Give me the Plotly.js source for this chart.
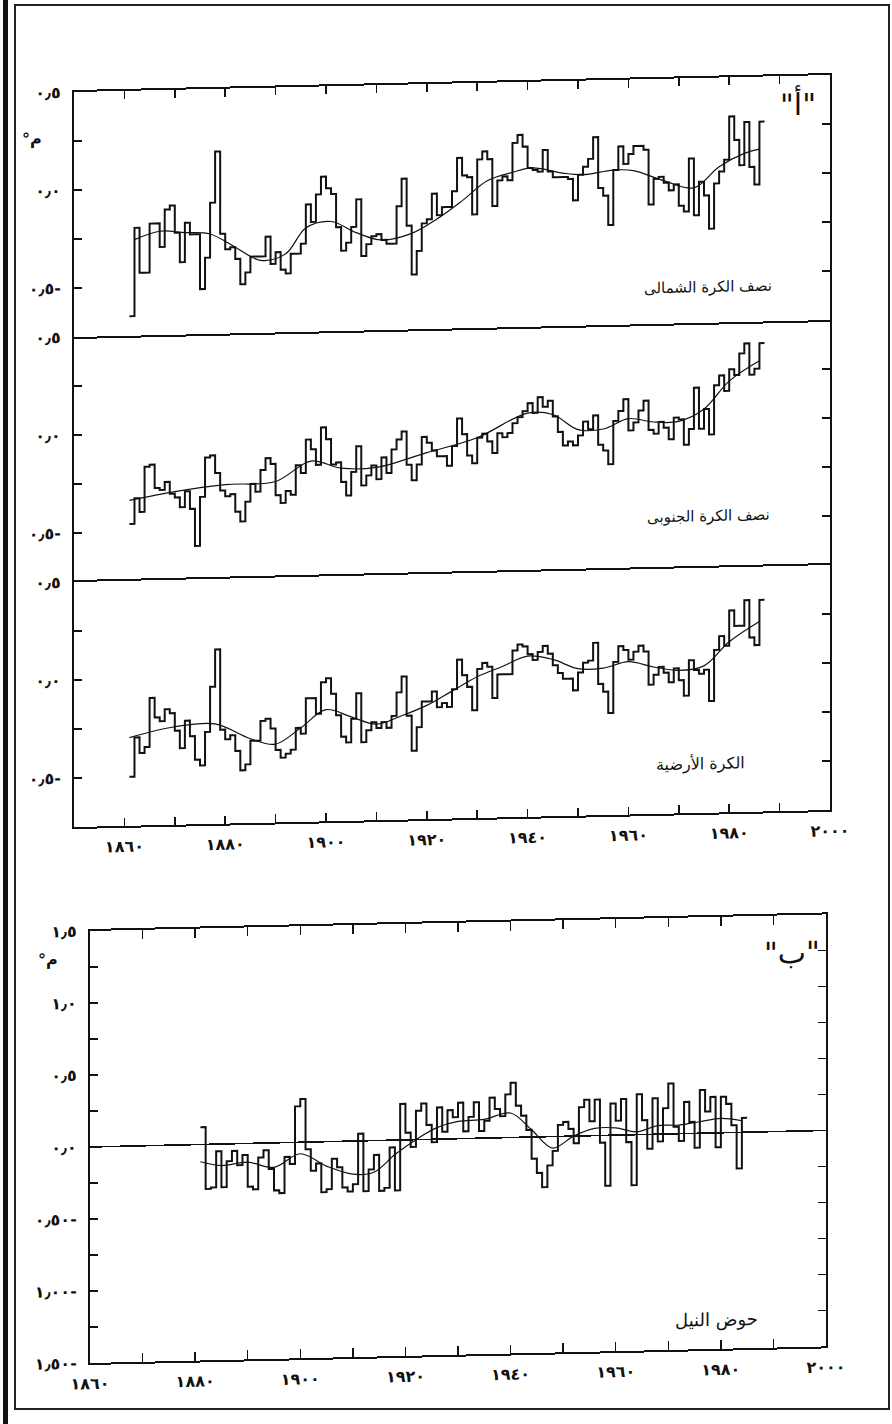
<!DOCTYPE html>
<html><head><meta charset="utf-8">
<script src="https://cdn.plot.ly/plotly-3.0.1.min.js"></script>
<style>
html,body{margin:0;padding:0;background:#fff;}
#wrap{position:relative;width:892px;height:1424px;overflow:hidden;background:#fff;}
#chart{position:absolute;left:0;top:0;width:892px;height:1424px;transform:skewY(-1.29deg);transform-origin:0 0;}
.fr1{position:absolute;left:3px;top:0;width:5px;height:1424px;background:#111;}
.fr2{position:absolute;left:14px;top:4px;width:872px;height:1402px;border:2px solid #222;}
</style></head>
<body><div id="wrap"><div class="fr1"></div><div class="fr2"></div><div id="chart"></div></div>
<script>
// ---------- DATA ----------
const nhStart = 1861;
const nhValues = [
 -0.65,-0.20,-0.43,-0.43,-0.18,-0.18,-0.30,-0.11,-0.09,-0.23,
 -0.38,-0.18,-0.24,-0.24,-0.52,-0.36,-0.08, 0.18,-0.24,-0.32,
 -0.31,-0.37,-0.50,-0.44,-0.36,-0.36,-0.36,-0.26,-0.40,-0.34,
 -0.43,-0.45,-0.35,-0.35,-0.30,-0.10,-0.19,-0.05, 0.04,-0.02,
 -0.05,-0.22,-0.34,-0.30,-0.22,-0.08,-0.37,-0.31,-0.27,-0.26,
 -0.29,-0.31,-0.31,-0.12, 0.02,-0.22,-0.47,-0.35,-0.21,-0.19,
 -0.06,-0.17,-0.13,-0.13,-0.05, 0.12, 0.03, 0.02,-0.17, 0.11,
  0.15, 0.11,-0.13, 0.00, 0.02, 0.00, 0.19, 0.23, 0.17, 0.06,
  0.05, 0.04, 0.15, 0.04, 0.01, 0.01, 0.01, 0.00,-0.11, 0.02,
  0.06, 0.10, 0.21,-0.05,-0.09,-0.24, 0.04, 0.16, 0.07, 0.12,
  0.16, 0.16, 0.14,-0.14,-0.01, 0.00,-0.03,-0.07,-0.04,-0.15,
 -0.18, 0.09,-0.20,-0.03,-0.10,-0.27,-0.04, 0.02, 0.08, 0.30,
  0.18, 0.05, 0.27, 0.04,-0.05, 0.27];
const nhSmoothYears  = [1862,1867,1872,1877,1882,1887,1892,1896,1901,1906,1911,1917,1922,1927,1932,1937,1941,1947,1951,1957,1961,1967,1973,1978,1983,1986];
const nhSmoothValues = [-0.26,-0.22,-0.23,-0.24,-0.31,-0.38,-0.35,-0.22,-0.19,-0.25,-0.29,-0.26,-0.19,-0.10,0.00,0.04,0.06,0.03,0.02,0.04,0.035,-0.02,-0.06,0.045,0.11,0.13];

const shStart = 1861;
const shValues = [
 -0.46,-0.33,-0.40,-0.17,-0.16,-0.28,-0.29,-0.25,-0.31,-0.33,
 -0.38,-0.30,-0.39,-0.58,-0.33,-0.13,-0.12,-0.21,-0.30,-0.33,
 -0.32,-0.41,-0.46,-0.36,-0.27,-0.31,-0.20,-0.14,-0.17,-0.33,
 -0.37,-0.31,-0.33,-0.18,-0.22,-0.05,-0.10,-0.18, 0.01,-0.05,
 -0.18,-0.17,-0.27,-0.34,-0.22,-0.09,-0.29,-0.24,-0.19,-0.26,
 -0.15,-0.23,-0.11,-0.06,-0.02,-0.19,-0.27,-0.19,-0.05,-0.08,
 -0.12,-0.15,-0.15,-0.20,-0.10, 0.04,-0.04,-0.15,-0.19,-0.06,
 -0.04,-0.08,-0.14,-0.04,-0.06,-0.04, 0.01, 0.04, 0.07, 0.11,
  0.06, 0.14, 0.09, 0.12, 0.04,-0.04,-0.11,-0.09,-0.11,-0.06,
  0.01,-0.03, 0.04,-0.11,-0.14,-0.21, 0.01, 0.06, 0.12,-0.04,
  0.00, 0.06, 0.11,-0.04,-0.06, 0.00,-0.03,-0.09, 0.02, 0.01,
 -0.12,-0.04, 0.17,-0.04, 0.06,-0.07, 0.18, 0.23, 0.15, 0.26,
  0.23, 0.34, 0.39, 0.23, 0.26, 0.39];
const shSmoothYears  = [1861,1870,1880,1890,1897,1903,1910,1920,1930,1940,1945,1950,1955,1960,1965,1970,1975,1980,1986];
const shSmoothValues = [-0.34,-0.30,-0.27,-0.26,-0.16,-0.20,-0.20,-0.13,-0.06,0.06,0.05,-0.03,-0.03,0.02,0.00,0.00,0.06,0.20,0.30];

const glStart = 1861;
const glValues = [
 -0.50,-0.30,-0.38,-0.35,-0.10,-0.20,-0.22,-0.16,-0.18,-0.27,
 -0.36,-0.22,-0.30,-0.42,-0.45,-0.28,-0.05, 0.14,-0.27,-0.32,
 -0.30,-0.38,-0.48,-0.45,-0.33,-0.33,-0.23,-0.22,-0.27,-0.38,
 -0.42,-0.40,-0.38,-0.27,-0.30,-0.12,-0.12,-0.20,-0.04,-0.02,
 -0.10,-0.21,-0.32,-0.35,-0.23,-0.10,-0.35,-0.29,-0.25,-0.28,
 -0.25,-0.28,-0.22,-0.10,-0.02,-0.22,-0.40,-0.28,-0.15,-0.15,
 -0.10,-0.18,-0.16,-0.18,-0.09, 0.06,-0.02,-0.08,-0.20, 0.01,
  0.04, 0.02,-0.14,-0.02,-0.02,-0.02, 0.10, 0.13, 0.12, 0.08,
  0.05, 0.09, 0.12, 0.08, 0.02,-0.02,-0.05,-0.05,-0.11,-0.02,
  0.03, 0.04, 0.13,-0.08,-0.12,-0.23, 0.03, 0.11, 0.09, 0.04,
  0.08, 0.11, 0.08,-0.09,-0.04, 0.00,-0.03,-0.08,-0.01,-0.07,
 -0.15, 0.03,-0.02,-0.04,-0.02,-0.18, 0.08, 0.15, 0.10, 0.28,
  0.20, 0.20, 0.33, 0.14, 0.10, 0.33];
const glSmoothYears  = [1861,1870,1878,1885,1890,1895,1900,1905,1910,1915,1920,1925,1930,1935,1940,1945,1950,1955,1960,1965,1970,1975,1980,1986];
const glSmoothValues = [-0.30,-0.25,-0.24,-0.32,-0.35,-0.27,-0.18,-0.22,-0.26,-0.22,-0.17,-0.10,-0.03,0.02,0.07,0.05,0.00,0.00,0.03,0.00,-0.02,0.00,0.12,0.22];

const nileStart = 1881;
const nileValues = [
  0.12,-0.31,-0.30,-0.05,-0.30,-0.12,-0.05,-0.15,-0.08,-0.30,
 -0.32,-0.10,-0.05,-0.18,-0.33,-0.35,-0.10,-0.15, 0.25, 0.30,
 -0.05,-0.20,-0.15,-0.35,-0.33,-0.12,-0.18,-0.32,-0.35,-0.30,
  0.05,-0.35,-0.20,-0.10,-0.35,-0.33,-0.05,-0.35, 0.25, 0.05,
 -0.05, 0.20, 0.25, 0.10,-0.02, 0.22, 0.05, 0.20, 0.15, 0.25,
  0.05, 0.15, 0.25, 0.05, 0.12, 0.28, 0.20, 0.15, 0.30, 0.38,
  0.22, 0.15, 0.05,-0.15,-0.25,-0.35,-0.20,-0.10, 0.08, 0.10,
  0.05,-0.05, 0.20, 0.25, 0.10, 0.25,-0.05,-0.35, 0.22, 0.10,
  0.25,-0.05,-0.35, 0.28, 0.10,-0.10, 0.25,-0.05, 0.18, 0.35,
  0.05,-0.05, 0.22, 0.08,-0.10, 0.30, 0.15, 0.25,-0.10, 0.25,
  0.20, 0.05,-0.25, 0.10];
const nileSmoothYears  = [1881,1885,1890,1895,1900,1905,1910,1914,1918,1922,1926,1930,1935,1940,1944,1948,1952,1956,1960,1964,1968,1972,1976,1980,1984];
const nileSmoothValues = [-0.12,-0.15,-0.13,-0.17,-0.08,-0.17,-0.23,-0.22,-0.10,0.00,0.08,0.12,0.13,0.17,0.05,-0.08,0.00,0.05,0.05,0.02,0.06,0.06,0.08,0.10,0.08];

const yearTickLabels = {1860:'١٨٦٠',1880:'١٨٨٠',1900:'١٩٠٠',1920:'١٩٢٠',1940:'١٩٤٠',1960:'١٩٦٠',1980:'١٩٨٠',2000:'٢٠٠٠'};
const panelAYTicks = [0.5,0.25,0,-0.25,-0.5];
const panelAYText  = ['٠٫٥','','٠٫٠','','٠٫٥-'];
const nileYTicks = [1.5,1.25,1,0.75,0.5,0.25,0,-0.25,-0.5,-0.75,-1,-1.25,-1.5];
const nileYText  = ['١٫٥','','١٫٠','','٠٫٥','','٠٫٠','','٠٫٥٠-','','١٫٠٠-','','١٫٥٠-'];
const labels = {nh:'نصف الكرة الشمالى', sh:'نصف الكرة الجنوبى', gl:'الكرة الأرضية', nile:'حوض النيل', a:'"أ"', b:'"ب"', unit:'°م'};

// ---------- BUILD ----------
const INK = '#111';
const FONT = 'DejaVu Sans';
function steps(start, vals, xa, ya){
  const x = vals.map((v,i)=>start+i); x.push(start+vals.length);
  const y = vals.slice(); y.push(vals[vals.length-1]);
  return {x:x, y:y, xaxis:xa, yaxis:ya, mode:'lines', line:{shape:'hv', color:INK, width:2}, hoverinfo:'skip'};
}
function smooth(xs, ys, xa, ya){
  return {x:xs, y:ys, xaxis:xa, yaxis:ya, mode:'lines', line:{shape:'spline', smoothing:1, color:INK, width:1.2}, hoverinfo:'skip'};
}
const traces = [
  steps(nhStart, nhValues, 'x', 'y'), smooth(nhSmoothYears, nhSmoothValues, 'x', 'y'),
  steps(shStart, shValues, 'x2', 'y2'), smooth(shSmoothYears, shSmoothValues, 'x2', 'y2'),
  steps(glStart, glValues, 'x3', 'y3'), smooth(glSmoothYears, glSmoothValues, 'x3', 'y3'),
  steps(nileStart, nileValues, 'x4', 'y4'), smooth(nileSmoothYears, nileSmoothValues, 'x4', 'y4')
];

const decA = []; for (let y=1860; y<=2000; y+=10) decA.push(y);
const decText = decA.map(y => yearTickLabels[y] || '');
const tickFont = {family:FONT, size:16, color:INK, weight:'bold'};
const domA = [74/892, 830/892];
const domB = [90/892, 826/892];
const base = {showline:true, linewidth:2, linecolor:INK, showgrid:false, zeroline:false, tickcolor:INK, tickwidth:1.5, ticklen:8, fixedrange:true};

// page-pixel helper for annotation placement (unsheared coordinates)
function ann(px, py, text, size, bold){
  return {xref:'paper', yref:'paper', x:px/892, y:1-py/1424, xanchor:'center', yanchor:'middle', text:text, showarrow:false,
          font:{family:FONT, size:size, color:INK, weight: bold ? 'bold' : 'normal'}};
}

const layout = {
  width:892, height:1424, margin:{l:0,r:0,t:0,b:0}, showlegend:false,
  paper_bgcolor:'rgba(0,0,0,0)', plot_bgcolor:'rgba(0,0,0,0)',
  xaxis: Object.assign({}, base, {domain:domA, anchor:'y', range:[1850,2000], side:'top', mirror:true, ticks:'inside', tickvals:decA.slice(0,-1), showticklabels:false}),
  xaxis2: Object.assign({}, base, {domain:domA, anchor:'y2', range:[1850,2000], showline:false, ticks:'', showticklabels:false}),
  xaxis3: Object.assign({}, base, {domain:domA, anchor:'y3', range:[1850,2000], mirror:true, ticks:'inside', tickvals:decA, ticktext:decText, tickfont:tickFont, ticklabelstandoff:5}),
  yaxis: Object.assign({}, base, {domain:[0.76215,0.93420], anchor:'x', range:[-0.75,0.5], mirror:'ticks', ticks:'inside', tickvals:panelAYTicks, ticktext:panelAYText, tickfont:tickFont, ticklabelstandoff:8}),
  yaxis2: Object.assign({}, base, {domain:[0.59010,0.76215], anchor:'x2', range:[-0.75,0.5], mirror:'ticks', ticks:'inside', tickvals:panelAYTicks, ticktext:panelAYText, tickfont:tickFont, ticklabelstandoff:8}),
  yaxis3: Object.assign({}, base, {domain:[0.41805,0.59010], anchor:'x3', range:[-0.75,0.5], mirror:'ticks', ticks:'inside', tickvals:panelAYTicks, ticktext:panelAYText, tickfont:tickFont, ticklabelstandoff:8}),
  xaxis4: Object.assign({}, base, {domain:domB, anchor:'y4', range:[1860,2000], mirror:'ticks', ticks:'inside', ticklen:9, tickvals:decA, ticktext:decText, tickfont:tickFont, ticklabelstandoff:5}),
  yaxis4: Object.assign({}, base, {domain:[0.04143,0.34480], anchor:'x4', range:[-1.5,1.5], mirror:'ticks', ticks:'inside', tickvals:nileYTicks, ticktext:nileYText, tickfont:tickFont, ticklabelstandoff:8, zeroline:true, zerolinecolor:INK, zerolinewidth:1.6}),
  annotations: [
    ann(798, 121, labels.a, 30, false),
    ann(708, 303, labels.nh, 15, false),
    ann(708, 532, labels.sh, 15, false),
    ann(700, 779, labels.gl, 16, false),
    ann(716, 1336, labels.nile, 18, false),
    ann(792, 970, labels.b, 30, false),
    ann(32, 139, labels.unit, 16, true),
    ann(48, 960, labels.unit, 16, true)
  ]
};
Plotly.newPlot('chart', traces, layout, {staticPlot:true, displayModeBar:false});
</script>
</body></html>
